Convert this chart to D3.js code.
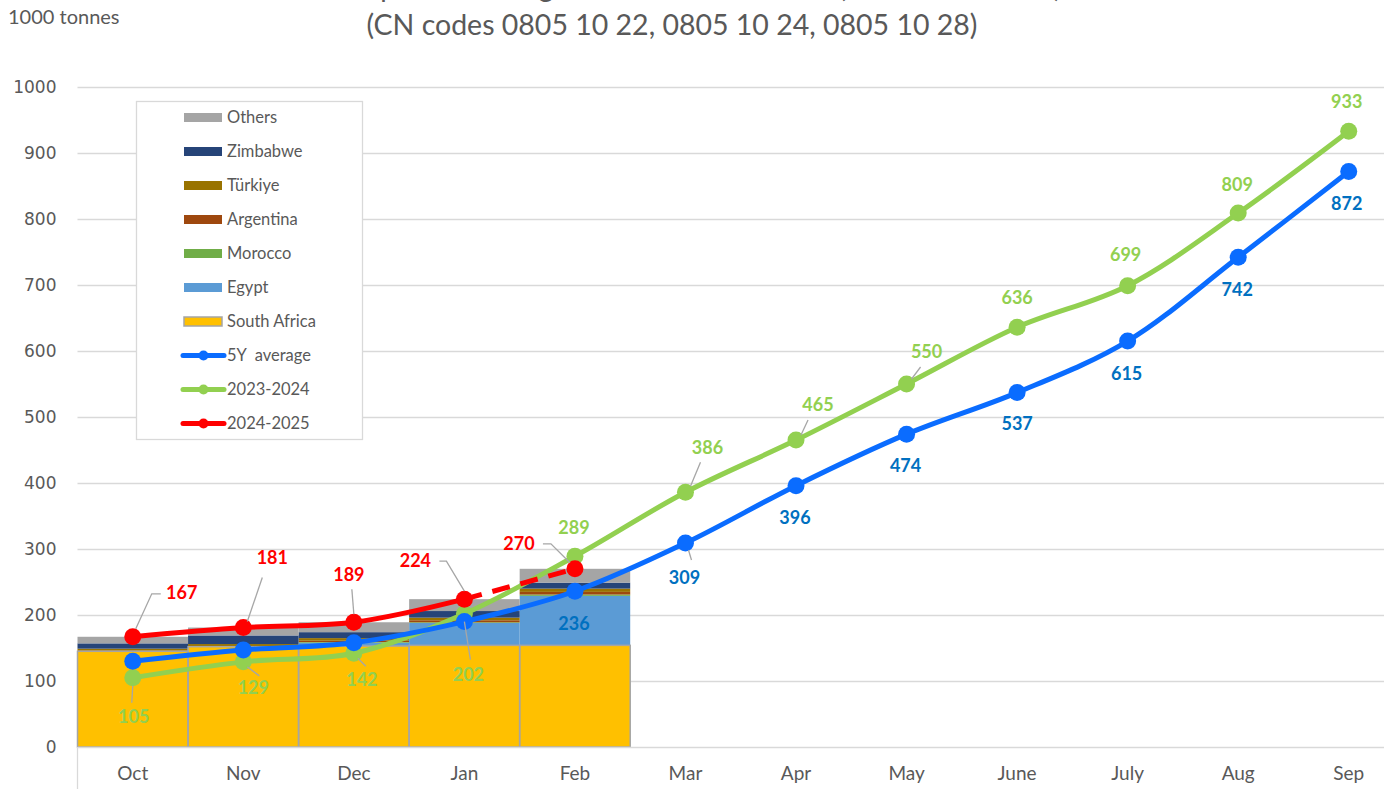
<!DOCTYPE html>
<html>
<head>
<meta charset="utf-8">
<script src="https://cdn.jsdelivr.net/npm/d3@7"></script>
<style>
  body { margin: 0; background: #fff; }
  svg { display: block; font-family: Lato, "Open Sans", sans-serif; }
</style>
</head>
<body>
<div id="chart"></div>
<script>
// ---- data (1000 tonnes) ----
var months = ["Oct", "Nov", "Dec", "Jan", "Feb", "Mar", "Apr", "May", "June", "July", "Aug", "Sep"];
var origins = ["South Africa", "Egypt", "Morocco", "Argentina", "Türkiye", "Zimbabwe", "Others"];

// stacked bars, 2024-2025 cumulated by origin (Oct..Feb)
var southAfrica = [145, 152, 153, 154, 154];
var egypt       = [0, 0, 5, 34, 75];
var morocco     = [0, 0, 1, 1, 2];
var argentina   = [1, 1, 2, 3, 4];
var turkiye     = [3, 3, 4, 4, 5];
var zimbabwe    = [8, 13, 9, 10, 9];
var others      = [10, 12, 15, 18, 21];

var avg5y  = [130, 147, 158, 190, 236, 309, 396, 474, 537, 615, 742, 872];
var y2324  = [105, 129, 142, 202, 289, 386, 465, 550, 636, 699, 809, 933];
var y2425  = [167, 181, 189, 224, 270];

var yTicks = [0, 100, 200, 300, 400, 500, 600, 700, 800, 900, 1000];

// ---- layout ----
var W = 1384, H = 789;
var x = d3.scaleBand().domain(months).range([77.5, 1404]).padding(0);
var y = d3.scaleLinear().domain([0, 1000]).range([747, 87]);

var colors = {
  "South Africa": "#ffc000", "Egypt": "#5b9bd5", "Morocco": "#70ad47",
  "Argentina": "#9e480e", "Türkiye": "#997300", "Zimbabwe": "#264478", "Others": "#a5a5a5"
};
var cBlue = "#0a6cff", cGreen = "#92d050", cRed = "#ff0000";
var txt = "#595959";

var svg = d3.select("#chart").append("svg")
    .attr("width", W).attr("height", H);

// title (top line is cut off by the frame, as in the source image)
svg.append("text")
    .attr("x", 684).attr("y", -3)
    .attr("text-anchor", "middle")
    .attr("font-size", 28).attr("fill", txt)
    .text("EU imports of oranges from third countries (cumulative totals)");
svg.append("text")
    .attr("x", 672).attr("y", 35)
    .attr("text-anchor", "middle")
    .attr("font-size", 28.5).attr("fill", txt)
    .text("(CN codes 0805 10 22, 0805 10 24, 0805 10 28)");
svg.append("text")
    .attr("x", 8).attr("y", 24)
    .attr("font-size", 20).attr("fill", txt)
    .text("1000 tonnes");

// gridlines
svg.append("g").selectAll("line")
    .data(yTicks.slice(1))
    .enter().append("line")
    .attr("x1", 77.5).attr("x2", W)
    .attr("y1", function(d) { return Math.round(y(d)) + 0.5; })
    .attr("y2", function(d) { return Math.round(y(d)) + 0.5; })
    .attr("stroke", "#d9d9d9").attr("stroke-width", 1.3);

// y axis labels
var yAxis = d3.axisLeft(y).tickValues(yTicks).tickFormat(d3.format("d")).tickSize(0).tickPadding(21);
var gy = svg.append("g").attr("transform", "translate(77.5,0)").call(yAxis);
gy.select(".domain").remove();
gy.selectAll("text")
    .attr("font-family", "'DejaVu Sans', sans-serif")
    .attr("font-size", 17).attr("fill", txt);

// stacked bars
var table = southAfrica.map(function(d, i) {
  return { month: months[i], "South Africa": southAfrica[i], "Egypt": egypt[i], "Morocco": morocco[i],
           "Argentina": argentina[i], "Türkiye": turkiye[i], "Zimbabwe": zimbabwe[i], "Others": others[i] };
});
var layers = d3.stack().keys(origins)(table);

svg.append("g").selectAll("g")
    .data(layers)
    .enter().append("g")
    .attr("fill", function(d) { return colors[d.key]; })
    .selectAll("rect")
    .data(function(d) { return d; })
    .enter().append("rect")
    .attr("x", function(d) { return x(d.data.month); })
    .attr("width", x.bandwidth())
    .attr("y", function(d) { return y(d[1]); })
    .attr("height", function(d) { return y(d[0]) - y(d[1]); });

// bar outlines (South Africa has a grey border)
svg.append("g").selectAll("rect")
    .data(layers[0])
    .enter().append("rect")
    .attr("x", function(d) { return x(d.data.month); })
    .attr("width", x.bandwidth())
    .attr("y", function(d) { return y(d[1]); })
    .attr("height", function(d) { return y(d[0]) - y(d[1]); })
    .attr("fill", "none").attr("stroke", "#a5a5a5").attr("stroke-width", 1.5);

// x axis
svg.append("line")
    .attr("x1", 77.5).attr("x2", W).attr("y1", 747.5).attr("y2", 747.5)
    .attr("stroke", "#d9d9d9").attr("stroke-width", 1.3);
svg.append("line")
    .attr("x1", 77.5).attr("x2", 77.5).attr("y1", 747).attr("y2", H)
    .attr("stroke", "#d9d9d9").attr("stroke-width", 1.3);
var xAxis = d3.axisBottom(x).tickSize(0).tickPadding(20);
var gx = svg.append("g").attr("transform", "translate(0,747)").call(xAxis);
gx.select(".domain").remove();
gx.selectAll("text")
    .attr("font-family", "Lato, sans-serif")
    .attr("font-size", 19).attr("fill", txt);

// lines
var cx = function(i) { return x(months[i]) + x.bandwidth() / 2; };
var line = d3.line()
    .x(function(d) { return cx(d.i); })
    .y(function(d) { return y(d.v); })
    .curve(d3.curveCatmullRom.alpha(0.5));
function pts(arr) { return arr.map(function(v, i) { return { i: i, v: v }; }); }

function drawSeries(data, color, dashFrom) {
  var p = pts(data);
  if (dashFrom == null) {
    svg.append("path").datum(p).attr("d", line)
        .attr("fill", "none").attr("stroke", color).attr("stroke-width", 5);
  } else {
    svg.append("path").datum(p.slice(0, dashFrom + 1)).attr("d", line)
        .attr("fill", "none").attr("stroke", color).attr("stroke-width", 5);
    svg.append("path").datum(p.slice(dashFrom)).attr("d", line)
        .attr("fill", "none").attr("stroke", color).attr("stroke-width", 5)
        .attr("stroke-dasharray", "18,11");
  }
  svg.append("g").selectAll("circle")
      .data(p).enter().append("circle")
      .attr("cx", function(d) { return cx(d.i); })
      .attr("cy", function(d) { return y(d.v); })
      .attr("r", 8.5).attr("fill", color);
}
drawSeries(y2324, cGreen);
drawSeries(avg5y, cBlue);
drawSeries(y2425, cRed, 3);

// data labels: offset of label centre from point, optional leader polyline (offsets)
var redLab = [
  { dx: 49, dy: -44, lead: [[3, -8], [19, -43], [28, -43]] },
  { dx: 29, dy: -70, lead: [[4, -6], [19, -50]] },
  { dx: -5, dy: -48, lead: [[0, -8], [-2, -33]] },
  { dx: -49, dy: -38, lead: [[-25, -38], [-18, -38], [0, -8]] },
  { dx: -56, dy: -25, lead: [[-32, -25], [-24, -25], [-5, -6]] }
];
var greenLab = [
  { dx: 1, dy: 39, lead: [[0, 8], [-1, 25]] },
  { dx: 10, dy: 26, lead: [[4, 5], [16, 14]] },
  { dx: 8, dy: 26, lead: [[4, 5], [12, 13]] },
  { dx: 4, dy: 61, lead: [[0, 8], [6, 46]] },
  { dx: -1, dy: -29 },
  { dx: 22, dy: -45, lead: [[5, -6], [15, -30]] },
  { dx: 22, dy: -35, lead: [[5, -5], [12, -20]] },
  { dx: 20, dy: -32, lead: [[5, -5], [14, -17]] },
  { dx: 0, dy: -30 }, { dx: -2, dy: -31 }, { dx: -1, dy: -28 }, { dx: -2, dy: -30 }
];
var blueLab = [null, null, null, null,
  { dx: -1, dy: 32 },
  { dx: -1, dy: 35, lead: [[3, 7], [6, 17]] },
  { dx: -1, dy: 32 }, { dx: -1, dy: 32 }, { dx: 0, dy: 31 },
  { dx: -1, dy: 33 }, { dx: -1, dy: 32 }, { dx: -2, dy: 32 }
];

function drawLabels(data, lab, color) {
  data.forEach(function(v, i) {
    var L = lab[i];
    if (!L) return;
    var px = cx(i), py = y(v);
    if (L.lead) {
      var path = d3.path();
      L.lead.forEach(function(o, k) {
        if (k === 0) path.moveTo(px + o[0], py + o[1]); else path.lineTo(px + o[0], py + o[1]);
      });
      svg.append("path").attr("d", path.toString())
          .attr("fill", "none").attr("stroke", "#a6a6a6").attr("stroke-width", 1.3);
    }
    svg.append("text")
        .attr("x", px + L.dx).attr("y", py + L.dy)
        .attr("dy", "0.35em")
        .attr("text-anchor", "middle")
        .attr("font-size", 18).attr("font-weight", "bold")
        .attr("fill", color)
        .text(v);
  });
}
drawLabels(y2324, greenLab, cGreen);
drawLabels(avg5y, blueLab, "#0070c0");
drawLabels(y2425, redLab, cRed);

// legend
var legend = svg.append("g");
legend.append("rect")
    .attr("x", 136.5).attr("y", 101.5).attr("width", 226).attr("height", 338)
    .attr("fill", "#fff").attr("stroke", "#d9d9d9").attr("stroke-width", 1.3);

var legendItems = origins.slice().reverse().map(function(k) { return { key: k, type: "bar" }; })
  .concat([{ key: "5Y  average", type: "line", color: cBlue },
           { key: "2023-2024", type: "line", color: cGreen },
           { key: "2024-2025", type: "line", color: cRed }]);

var li = legend.selectAll("g.item")
    .data(legendItems)
    .enter().append("g")
    .attr("class", "item")
    .attr("transform", function(d, i) { return "translate(0," + (117.5 + i * 34) + ")"; });

li.filter(function(d) { return d.type === "bar"; }).append("rect")
    .attr("x", 184).attr("y", -4.5).attr("width", 38).attr("height", 9)
    .attr("fill", function(d) { return colors[d.key]; })
    .attr("stroke", function(d) { return d.key === "South Africa" ? "#a5a5a5" : "none"; })
    .attr("stroke-width", 1.5);
li.filter(function(d) { return d.type === "line"; }).append("line")
    .attr("x1", 183).attr("x2", 224).attr("y1", 0).attr("y2", 0)
    .attr("stroke", function(d) { return d.color; })
    .attr("stroke-width", 5).attr("stroke-linecap", "round");
li.filter(function(d) { return d.type === "line"; }).append("circle")
    .attr("cx", 203.5).attr("cy", 0).attr("r", 5)
    .attr("fill", function(d) { return d.color; });
li.append("text")
    .attr("x", 227).attr("y", 0).attr("dy", "0.35em")
    .attr("font-size", 16.5).attr("fill", txt)
    .style("white-space", "pre")
    .text(function(d) { return d.key; });
</script>
</body>
</html>
